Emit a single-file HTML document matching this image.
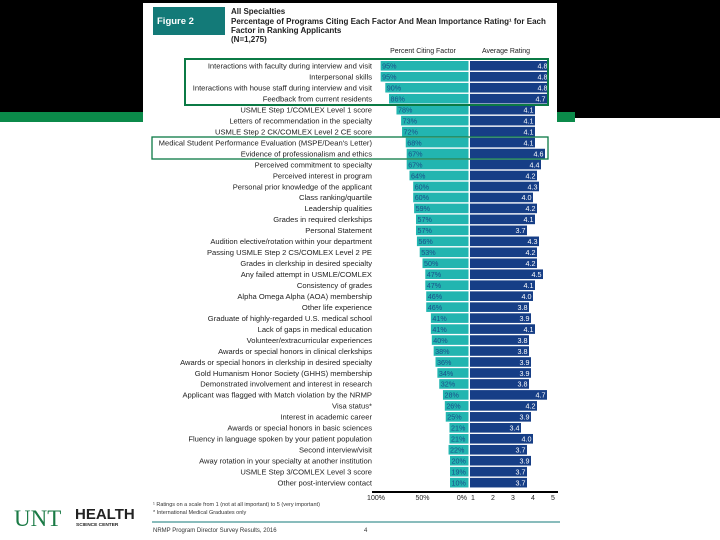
<!DOCTYPE html>
<html><head><meta charset="utf-8">
<style>
html,body{margin:0;padding:0;background:#fff;}
body{width:720px;height:540px;position:relative;overflow:hidden;font-family:"Liberation Sans",sans-serif;}
svg{position:absolute;left:0;top:0;}
</style></head>
<body>
<svg id="chart" width="720" height="540" viewBox="0 0 720 540">
  <rect x="0" y="0" width="143" height="112" fill="#000"/>
  <rect x="0" y="112" width="143" height="10" fill="#0b8a4a"/>
  <rect x="557" y="0" width="163" height="118" fill="#000"/>
  <rect x="557" y="112" width="18" height="10" fill="#0b8a4a"/>
  <rect x="143" y="0" width="414" height="3" fill="#000"/>
  <rect x="153" y="7" width="72" height="28" fill="#137a78"/>
  <text x="157" y="24" font-size="9.5" font-weight="bold" fill="#fff">Figure 2</text>
  <g font-size="8" font-weight="bold" fill="#222">
    <text x="231" y="14">All Specialties</text>
    <text x="231" y="24">Percentage of Programs Citing Each Factor And Mean Importance Rating¹ for Each</text>
    <text x="231" y="33">Factor in Ranking Applicants</text>
    <text x="231" y="42">(N=1,275)</text>
  </g>
  <text x="423" y="53" font-size="7" text-anchor="middle" fill="#222">Percent Citing Factor</text>
  <text x="506" y="53" font-size="7" text-anchor="middle" fill="#222">Average Rating</text>
  <g id="rows"></g>
  <rect x="185" y="59" width="363" height="46" fill="none" stroke="#0b7a45" stroke-width="2"/>
  <rect x="152" y="137" width="396" height="22" fill="none" stroke="#0b7a45" stroke-width="1.3"/>
  <line x1="372" y1="492" x2="558" y2="492" stroke="#000" stroke-width="2"/>
  <g id="ticks" font-size="7" fill="#222"></g>
  <g font-size="5.5" fill="#333">
    <text x="153" y="506">¹ Ratings on a scale from 1 (not at all important) to 5 (very important)</text>
    <text x="153" y="514">* International Medical Graduates only</text>
  </g>
  <line x1="152" y1="522" x2="560" y2="522" stroke="#137a78" stroke-width="1"/>
  <text x="153" y="532" font-size="6" fill="#333">NRMP Program Director Survey Results, 2016</text>
  <text x="364" y="532" font-size="6" fill="#333">4</text>
  <text x="14" y="526" font-size="23" fill="#1a7a45" font-family="Liberation Serif, serif">UNT</text>
  <text x="75" y="519" font-size="15" font-weight="bold" fill="#222">HEALTH</text>
  <text x="76" y="526" font-size="4.8" font-weight="bold" fill="#222">SCIENCE CENTER</text>
</svg>
<script>
const factors = ["Interactions with faculty during interview and visit","Interpersonal skills","Interactions with house staff during interview and visit","Feedback from current residents","USMLE Step 1/COMLEX Level 1 score","Letters of recommendation in the specialty","USMLE Step 2 CK/COMLEX Level 2 CE score","Medical Student Performance Evaluation (MSPE/Dean's Letter)","Evidence of professionalism and ethics","Perceived commitment to specialty","Perceived interest in program","Personal prior knowledge of the applicant","Class ranking/quartile","Leadership qualities","Grades in required clerkships","Personal Statement","Audition elective/rotation within your department","Passing USMLE Step 2 CS/COMLEX Level 2 PE","Grades in clerkship in desired specialty","Any failed attempt in USMLE/COMLEX","Consistency of grades","Alpha Omega Alpha (AOA) membership","Other life experience","Graduate of highly-regarded U.S. medical school","Lack of gaps in medical education","Volunteer/extracurricular experiences","Awards or special honors in clinical clerkships","Awards or special honors in clerkship in desired specialty","Gold Humanism Honor Society (GHHS) membership","Demonstrated involvement and interest in research","Applicant was flagged with Match violation by the NRMP","Visa status*","Interest in academic career","Awards or special honors in basic sciences","Fluency in language spoken by your patient population","Second interview/visit","Away rotation in your specialty at another institution","USMLE Step 3/COMLEX Level 3 score","Other post-interview contact"];
const percents = [95,95,90,86,78,73,72,68,67,67,64,60,60,59,57,57,56,53,50,47,47,46,46,41,41,40,38,36,34,32,28,26,25,21,21,22,20,19,10];
const ratings = [4.8,4.8,4.8,4.7,4.1,4.1,4.1,4.1,4.6,4.4,4.2,4.3,4.0,4.2,4.1,3.7,4.3,4.2,4.2,4.5,4.1,4.0,3.8,3.9,4.1,3.8,3.8,3.9,3.9,3.8,4.7,4.2,3.9,3.4,4.0,3.7,3.9,3.7,3.7];
const pctTicks = ["100%","50%","0%"];
const pctTickVals = [100,50,0];
const ratingTicks = [1,2,3,4,5];

const NS = "http://www.w3.org/2000/svg";
const DIV = 469;
function pctW(v){ return Math.max(19, v * 0.93); }
function pctX(v){ return DIV - v * 0.93; }
function rateX(v){ return 473 + (v - 1) * 20; }
function rowY(i){ return 61 + i * 10.97; }
function mk(tag, attrs){ const e = document.createElementNS(NS, tag); for (const k in attrs) e.setAttribute(k, attrs[k]); return e; }

const rows = document.getElementById('rows');
factors.forEach((f, i) => {
  const y = rowY(i), h = 9.6;
  const g = mk('g', {});
  
  
  const lab = mk('text', {x: 372, y: y + 7.6, 'font-size': 7.6, 'text-anchor': 'end', fill: '#222'});
  
  
  lab.textContent = f;
  g.appendChild(lab);
  const w = pctW(percents[i]);
  const pb = mk('rect', {x: DIV - w, y: y, width: w - 0.5, height: h, fill: '#22b5b0'});
  
  
  g.appendChild(pb);
  const pt = mk('text', {x: DIV - w + 1.5, y: y + 7.6, 'font-size': 7.2, fill: '#1b4f8a'});
  
  
  pt.textContent = percents[i] + '%';
  g.appendChild(pt);
  const re = rateX(ratings[i]);
  const rb = mk('rect', {x: DIV + 1, y: y, width: re - DIV - 1, height: h, fill: '#163e86'});
  
  
  g.appendChild(rb);
  const rt = mk('text', {x: re - 1.5, y: y + 7.6, 'font-size': 7.2, 'text-anchor': 'end', fill: '#fff'});
  
  
  rt.textContent = ratings[i].toFixed(1);
  g.appendChild(rt);
  rows.appendChild(g);
});

const ticks = document.getElementById('ticks');
pctTicks.forEach((t, i) => {
  const v = pctTickVals[i];
  const e = mk('text', {x: v === 0 ? pctX(v) - 2 : pctX(v), y: 500, 'text-anchor': v === 0 ? 'end' : 'middle'});
  
  
  e.textContent = t;
  ticks.appendChild(e);
});
ratingTicks.forEach(t => {
  const e = mk('text', {x: rateX(t), y: 500, 'text-anchor': 'middle'});
  
  
  e.textContent = t;
  ticks.appendChild(e);
});
</script>
</body></html>
